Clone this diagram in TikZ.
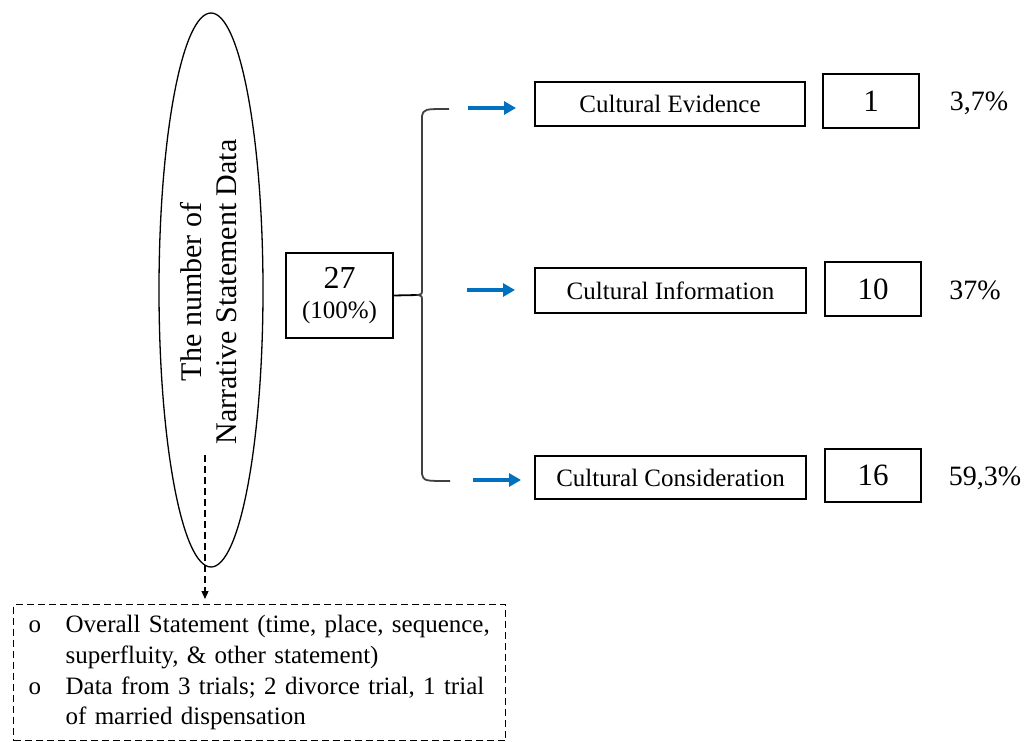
\documentclass[tikz,border=0pt]{standalone}
\usepackage{fontspec}
\setmainfont{Liberation Serif}
\usetikzlibrary{shapes.geometric,arrows.meta}
\definecolor{msblue}{RGB}{0,112,192}
\begin{document}
\begin{tikzpicture}[x=1pt,y=-1pt,
  box/.style={draw,line width=1.3pt,inner sep=0pt,font=\fontsize{25}{30}\selectfont},
  numbox/.style={draw,line width=1.3pt,inner sep=0pt,font=\fontsize{31}{34}\selectfont},
  pct/.style={inner sep=0pt,font=\fontsize{28}{30}\selectfont},
  bluearrow/.style={draw=msblue,line width=3.5pt,-{Triangle[length=12pt,width=13pt]}},
  bracestyle/.style={draw=black!75,line width=1.8pt},
  dashline/.style={line width=1.3pt,dash pattern=on 7pt off 4pt}]
\useasboundingbox (0,0) rectangle (1029,742);

% ellipse and its text
\node[ellipse,draw,line width=1.3pt,minimum width=104pt,minimum height=554pt,inner sep=0pt] (ell) at (211,290) {};
\node[rotate=90,align=center,inner sep=0pt,font=\fontsize{30}{35}\selectfont] (ellt) at (209,292) {The number of\\Narrative Statement Data};

% note box
\node[draw,dashline,minimum width=492pt,minimum height=136pt,inner sep=0pt,text width=462pt,align=left,
      font=\fontsize{25}{30.7}\selectfont,anchor=north west] (note) at (13,604)
  {\makebox[37pt][l]{o}Overall Statement (time, place, sequence,\\
   \hspace*{37pt}superfluity, \& other statement)\\
   \makebox[37pt][l]{o}Data from 3 trials; 2 divorce trial, 1 trial\\
   \hspace*{37pt}of married dispensation};

\coordinate (dstart) at (205,455);
\draw[dashline,-{Triangle[length=8pt,width=7pt]},shorten >=5pt] (dstart) -- (dstart |- note.north);

% total box
\node[draw,line width=1.3pt,minimum width=107pt,minimum height=85pt,inner sep=0pt,align=center,
      font=\fontsize{25}{30}\selectfont] (total) at (339.5,295.5)
  {{\fontsize{32}{32}\selectfont 27}\\(100\%)};

% brace
\coordinate (cusp) at (418,295);
\coordinate (btop) at (449,109);
\coordinate (bbot) at (450,481);
\draw[line width=1.8pt] (total.east) -- (cusp);
\draw[bracestyle] (btop) .. controls (424,109) .. (422,116) -- (422,289)
   .. controls (422,294) .. (cusp) .. controls (422,296) .. (422,301) -- (422,474)
   .. controls (424,481) .. (bbot);

% category boxes
\node[box,minimum width=270pt,minimum height=44pt] (ev) at (670,104) {Cultural Evidence};
\node[box,minimum width=271pt,minimum height=45pt] (inf) at (670.5,290.5) {Cultural Information};
\node[box,minimum width=271pt,minimum height=43pt] (con) at (670.5,477.5) {Cultural Consideration};

% number boxes
\node[numbox,minimum width=96pt,minimum height=54pt] (n1) at (871,101) {1};
\node[numbox,minimum width=96pt,minimum height=54pt] (n10) at (873,289) {10};
\node[numbox,minimum width=96pt,minimum height=53pt] (n16) at (873,475.5) {16};

% percentages
\node[pct] (p1) at (979,103) {3,7\%};
\node[pct] (p2) at (975,290) {37\%};
\node[pct] (p3) at (985,478) {59,3\%};

% blue arrows
\coordinate (a1s) at (468,108); \coordinate (a1e) at (516,108);
\coordinate (a2s) at (467,290); \coordinate (a2e) at (515,290);
\coordinate (a3s) at (473,480); \coordinate (a3e) at (521,480);
\draw[bluearrow] (a1s) -- (a1e);
\draw[bluearrow] (a2s) -- (a2e);
\draw[bluearrow] (a3s) -- (a3e);
\end{tikzpicture}
\end{document}
